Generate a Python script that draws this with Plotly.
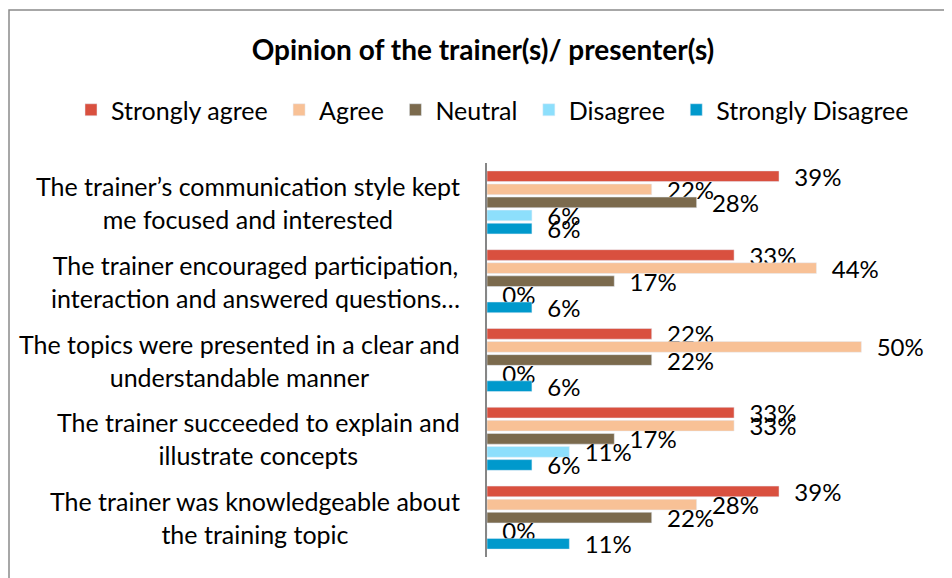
import plotly.graph_objects as go

categories = [
    "The trainer’s communication style kept<br>me focused and interested",
    "The trainer encouraged participation,<br>interaction and answered questions…",
    "The topics were presented in a clear and<br>understandable manner",
    "The trainer succeeded to explain and<br>illustrate concepts",
    "The trainer was knowledgeable about<br>the training topic",
]
series_names = ["Strongly agree", "Agree", "Neutral", "Disagree", "Strongly Disagree"]
strongly_agree = [0.39, 0.33, 0.22, 0.33, 0.39]
agree = [0.22, 0.44, 0.50, 0.33, 0.28]
neutral = [0.28, 0.17, 0.22, 0.17, 0.22]
disagree = [0.06, 0.00, 0.00, 0.11, 0.00]
strongly_disagree = [0.06, 0.06, 0.06, 0.06, 0.11]
colors = ["#D9503F", "#F8C196", "#7B6A4D", "#8DDFFC", "#0099CC"]

FONT = "Lato"
NB = "\u00a0\u00a0"

# page body adds 8px margin, so figure is 944x570 and offsets are shifted by 8
W, H = 944, 570
L, R, T, B = 479, 12, 155, 21
PW, PH = W - L - R, H - T - B

fig = go.Figure()
for name, vals, col in zip(series_names,
                           [strongly_agree, agree, neutral, disagree, strongly_disagree],
                           colors):
    fig.add_trace(go.Bar(
        y=categories, x=vals, name=name + "\u00a0", orientation="h",
        marker=dict(color=col),
        text=[f"{NB}{v:.0%}" for v in vals],
        textposition="outside",
        constraintext="none",
        cliponaxis=False,
        textfont=dict(size=24, color="black", family=FONT),
    ))

# category labels: centred lines, right edge just left of the axis
for cat in categories:
    fig.add_annotation(x=(454 - L) / PW, xref="paper", y=cat, yref="y",
                       xanchor="right", yanchor="middle", align="center",
                       text=cat, showarrow=False,
                       font=dict(size=25, family=FONT, color="black"))

fig.update_layout(
    width=W, height=H,
    margin=dict(l=L, r=R, t=T, b=B, autoexpand=False),
    paper_bgcolor="white", plot_bgcolor="white",
    barmode="group", bargap=0.17, bargroupgap=0.18,
    title=dict(text="<b>Opinion of the trainer(s)/ presenter(s)</b>",
               x=475 / W, xref="container", xanchor="center",
               y=1 - 42 / H, yanchor="middle",
               font=dict(size=28, family=FONT, color="black")),
    legend=dict(orientation="h", x=(63 - L) / PW, xanchor="left",
                y=(H - B - 102) / PH, yanchor="middle",
                font=dict(size=25, family=FONT, color="black"),
                itemwidth=30, traceorder="normal"),
    font=dict(family=FONT, color="black"),
    shapes=[dict(type="rect", xref="paper", yref="paper",
                 x0=(1 - L) / PW, x1=1.2, y0=-0.2, y1=(H - B - 2) / PH,
                 line=dict(color="#8a8a8a", width=1.5), layer="below")],
)
fig.update_xaxes(range=[0, 0.605], visible=False)
fig.update_yaxes(autorange="reversed", showline=True, linecolor="#868686", linewidth=2,
                 showgrid=False, ticks="", showticklabels=False, automargin=False)

fig.write_html("out.html")
